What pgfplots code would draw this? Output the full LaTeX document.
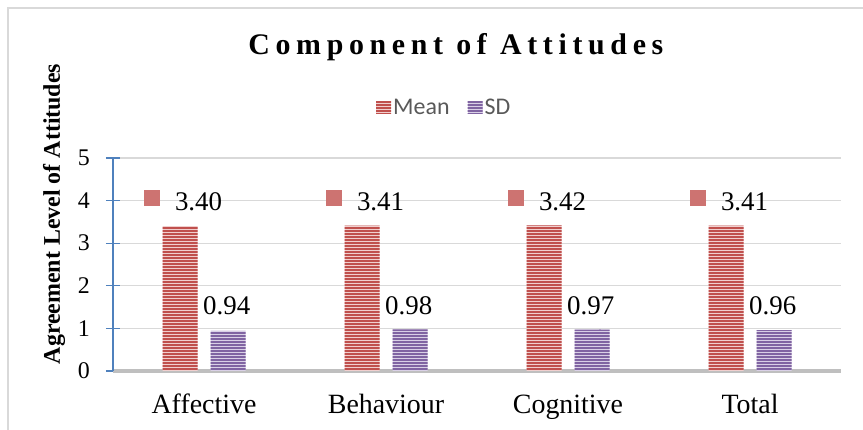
\documentclass[border=0pt]{standalone}
\usepackage{pgfplots}
\pgfplotsset{compat=1.18}
\usetikzlibrary{patterns}
\usepackage{fontspec}
\setmainfont{Liberation Serif}
\newfontfamily\calibri{Carlito}
\definecolor{meanred}{HTML}{C0504D}
\definecolor{meanlight}{HTML}{F0CFCE}
\definecolor{sdpurple}{HTML}{8064A2}
\definecolor{sdlight}{HTML}{D9D0E6}
\definecolor{axisblue}{HTML}{4F81BD}
\definecolor{gridgray}{HTML}{D9D9D9}
\definecolor{basegray}{HTML}{BFBFBF}
\definecolor{legtext}{HTML}{595959}
\pgfdeclarepatternformonly{hstripes}{\pgfqpoint{-1bp}{0bp}}{\pgfqpoint{301bp}{3bp}}{\pgfqpoint{300bp}{3bp}}%
  {\pgfpathrectangle{\pgfqpoint{-1bp}{0bp}}{\pgfqpoint{302bp}{1.5bp}}\pgfusepath{fill}}
\begin{document}
\begin{tikzpicture}
\path[use as bounding box] (0bp,0bp) rectangle (863bp,430bp);
\draw[color=gridgray, line width=1.5bp] (8bp,0bp) -- (8bp,422bp) -- (863bp,422bp);
\begin{axis}[
  at={(113bp,59bp)}, anchor=south west,
  scale only axis, width=728bp, height=213bp,
  xmin=-0.5, xmax=3.5, ymin=0, ymax=5,
  ytick={0,1,2,3,4,5},
  xtick={0,1,2,3}, xticklabels={Affective,Behaviour,Cognitive,Total},
  /pgf/number format/assume math mode=true,
  axis x line*=bottom, axis y line*=left,
  axis line style={-},
  x axis line style={draw=basegray, line width=3bp},
  y axis line style={draw=axisblue, line width=1.5bp},
  ymajorgrids, grid style={draw=gridgray, line width=1.2bp},
  ytick style={draw=axisblue, line width=1.2bp},
  xtick style={draw=none},
  major tick length=14bp, tick align=center,
  yticklabel style={font=\fontsize{24}{28}\selectfont, anchor=east, inner sep=0pt, xshift=-16bp},
  xticklabel style={font=\fontsize{28}{32}\selectfont, anchor=base, inner sep=0pt, yshift=-35bp},
  ylabel={Agreement Level of Attitudes},
  ylabel style={at={(axis description cs:-0.081,0.737)}, anchor=center, font=\bfseries\fontsize{24}{28}\selectfont},
  title={Component of Attitudes},
  title style={at={(axis description cs:0.471,1.457)}, anchor=base, font=\bfseries\fontsize{30}{34}\selectfont\addfontfeature{LetterSpace=19}},
  legend style={at={(axis description cs:0.455,1.235)}, anchor=center, draw=none, fill=none,
    legend columns=2, font=\calibri\fontsize{24}{28}\selectfont, text=legtext,
    /tikz/every even column/.append style={column sep=16bp}},
  legend cell align=left,
  legend image code/.code={\path[#1] (0bp,-6bp) rectangle (15bp,7bp);},
]
\addplot[ybar, bar width=35bp, bar shift=-24bp, fill=meanlight, draw=none,
  postaction={pattern=hstripes, pattern color=meanred}]
  coordinates {(0,3.40) (1,3.41) (2,3.42) (3,3.41)};
\addlegendentry{Mean}
\addplot[ybar, bar width=35bp, bar shift=24bp, fill=sdlight, draw=none,
  postaction={pattern=hstripes, pattern color=sdpurple}]
  coordinates {(0,0.94) (1,0.98) (2,0.97) (3,0.96)};
\addlegendentry{SD}
% data label keys
\addplot[only marks, mark=square*, mark size=7.5bp, color=meanred!80!white,
  mark options={fill=meanred!80!white, draw=none}, forget plot]
  coordinates {(-0.29,4.06) (0.71,4.06) (1.71,4.06) (2.71,4.06)};
% data labels
\addplot[draw=none, mark=none, forget plot, nodes near coords, point meta=explicit symbolic,
  nodes near coords style={anchor=center, inner sep=0pt, font=\fontsize{27}{32}\selectfont, text=black}]
  coordinates {(-0.03,3.97)[3.40] (0.97,3.97)[3.41] (1.97,3.97)[3.42] (2.97,3.97)[3.41]};
\addplot[draw=none, mark=none, forget plot, nodes near coords, point meta=explicit symbolic,
  nodes near coords style={anchor=center, inner sep=0pt, font=\fontsize{27}{32}\selectfont, text=black}]
  coordinates {(0.125,1.53)[0.94] (1.125,1.53)[0.98] (2.125,1.53)[0.97] (3.125,1.53)[0.96]};
\end{axis}
\end{tikzpicture}
\end{document}
